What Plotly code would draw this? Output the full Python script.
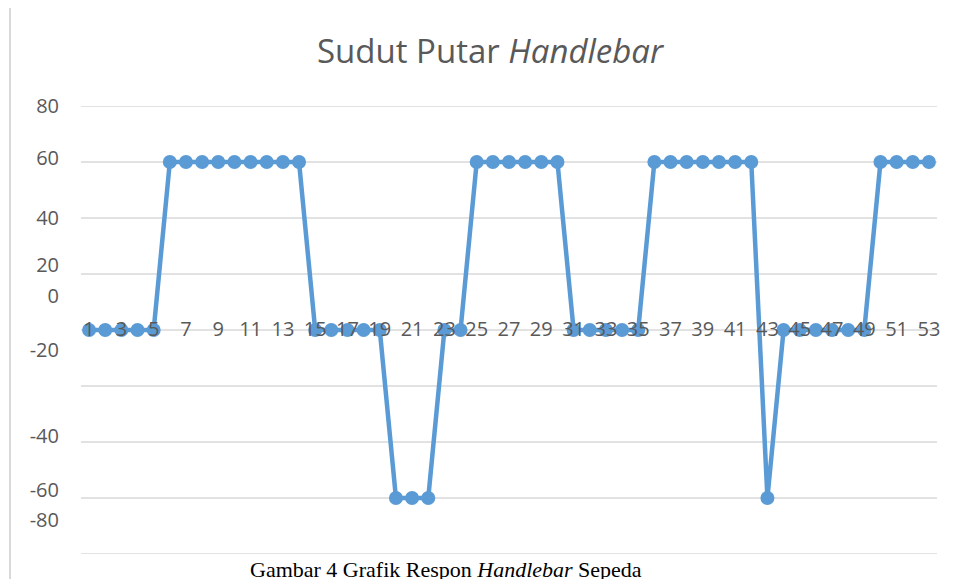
import plotly.graph_objects as go

categories = list(range(1, 54))
sudut = ([0]*5 + [60]*9 + [0]*5 + [-60]*3 + [0]*2 + [60]*6 + [0]*5 +
         [60]*7 + [-60] + [0]*6 + [60]*4)
x_tick_labels = [str(i) for i in range(1, 54, 2)]
y_grid_vals = [-80, -60, -40, -20, 0, 20, 40, 60, 80]
y_tick_text = ["80", "60", "40", "20", "0", "-20", "-40", "-60", "-80"]
# where the labels appear in the reference (they are displaced there)
y_tick_label_at = [80, 61.4, 40, 23.2, 12.1, -7.1, -37.9, -57.1, -67.9]

GRAY = "#595959"
GRID = "#d9d9d9"
BLUE = "#5B9BD5"
FONT = "Open Sans, sans-serif"

# the page body has an 8px default margin; figure coords = window coords - 8
OFF = 8
W, H = 957, 579
L, T, R, B = 81 - OFF, 106 - OFF, W - (937 - OFF), H - (554 - OFF)
PW, PH = W - L - R, H - T - B

fig = go.Figure()
fig.add_trace(go.Scatter(
    x=categories, y=sudut, mode="lines+markers",
    line=dict(color=BLUE, width=4.5),
    marker=dict(color=BLUE, size=14),
    showlegend=False, cliponaxis=True,
))

for v in y_grid_vals:
    fig.add_shape(type="line", xref="paper", yref="y", x0=0, x1=1, y0=v, y1=v,
                  line=dict(color=GRID, width=1.5), layer="below")

fig.update_layout(
    width=W, height=H,
    margin=dict(l=L, r=R, t=T, b=B, autoexpand=False),
    paper_bgcolor="white", plot_bgcolor="white",
    title=dict(
        text="Sudut Putar <i>Handlebar</i>",
        x=(490 - OFF) / W, xanchor="center", y=1 - (51 - OFF) / H, yanchor="middle",
        font=dict(family=FONT, size=33, color=GRAY),
    ),
    xaxis=dict(
        range=[0.5, 53.5], automargin=False, layer="above traces",
        tickmode="array", tickvals=list(range(1, 54, 2)), ticktext=x_tick_labels,
        showgrid=False, zeroline=False, showline=False, ticks="",
        anchor="free", position=0.5,
        ticklabelstandoff=-15,
        tickfont=dict(family=FONT, size=20, color=GRAY),
    ),
    yaxis=dict(
        range=[-80, 80], automargin=False,
        tickmode="array", tickvals=y_tick_label_at, ticktext=y_tick_text,
        showgrid=False, zeroline=False, showline=False, ticks="",
        ticklabelstandoff=21,
        tickfont=dict(family=FONT, size=20, color=GRAY),
    ),
)

fig.add_shape(type="line", xref="paper", yref="paper",
              x0=(10 - 81) / PW, x1=(10 - 81) / PW, y0=(554 - 8) / PH,
              y1=-40 / PH, line=dict(color=GRID, width=2))

fig.add_annotation(
    text="Gambar 4 Grafik Respon <i>Handlebar</i> Sepeda",
    xref="paper", yref="paper", x=(446 - 81) / PW, y=(554 - 555) / PH,
    xanchor="center", yanchor="top", showarrow=False,
    font=dict(family="Liberation Serif, Times New Roman, serif", size=22, color="black"),
)

fig.write_html("out.html")
